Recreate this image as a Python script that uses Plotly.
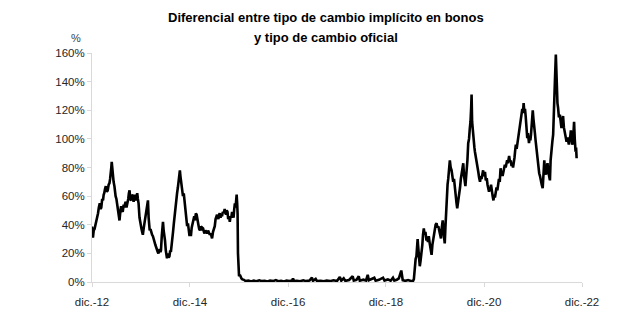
import plotly.graph_objects as go

# Dates and values (%)
dates_2013_2015 = [
    "2012-12-01", "2012-12-05", "2012-12-08", "2012-12-14", "2012-12-20", "2012-12-27", "2013-01-02",
    "2013-01-09", "2013-01-15", "2013-01-21", "2013-01-28", "2013-02-03", "2013-02-08", "2013-02-15",
    "2013-02-21", "2013-02-26", "2013-03-02", "2013-03-08", "2013-03-14", "2013-03-21", "2013-03-28",
    "2013-04-04", "2013-04-10", "2013-04-15", "2013-04-20", "2013-04-24", "2013-04-27", "2013-05-01",
    "2013-05-06", "2013-05-11", "2013-05-17", "2013-05-21", "2013-05-26", "2013-06-01", "2013-06-06",
    "2013-06-10", "2013-06-15", "2013-06-20", "2013-06-24", "2013-06-30", "2013-07-06", "2013-07-12",
    "2013-07-18", "2013-07-25", "2013-08-01", "2013-08-05", "2013-08-10", "2013-08-15", "2013-08-20",
    "2013-08-28", "2013-09-02", "2013-09-07", "2013-09-12", "2013-09-19", "2013-09-25", "2013-10-01",
    "2013-10-07", "2013-10-14", "2013-10-19", "2013-10-24", "2013-10-29", "2013-11-03", "2013-11-08",
    "2013-11-13", "2013-11-20", "2013-11-28", "2013-12-05", "2013-12-10", "2013-12-15", "2013-12-22",
    "2013-12-28", "2014-01-02", "2014-01-07", "2014-01-12", "2014-01-17", "2014-01-22", "2014-01-27",
    "2014-02-04", "2014-02-10", "2014-02-16", "2014-02-22", "2014-02-28", "2014-03-06", "2014-03-12",
    "2014-03-18", "2014-03-23", "2014-03-30", "2014-04-05", "2014-04-10", "2014-04-15", "2014-04-20",
    "2014-04-25", "2014-04-29", "2014-05-05", "2014-05-10", "2014-05-14", "2014-05-19", "2014-05-24",
    "2014-05-29", "2014-06-04", "2014-06-09", "2014-06-13", "2014-06-20", "2014-06-25", "2014-07-01",
    "2014-07-07", "2014-07-12", "2014-07-18", "2014-07-23", "2014-07-28", "2014-08-03", "2014-08-08",
    "2014-08-13", "2014-08-18", "2014-08-22", "2014-08-27", "2014-09-02", "2014-09-08", "2014-09-12",
    "2014-09-17", "2014-09-21", "2014-09-26", "2014-09-30", "2014-10-04", "2014-10-10", "2014-10-16",
    "2014-10-22", "2014-10-29", "2014-11-04", "2014-11-10", "2014-11-16", "2014-11-22", "2014-11-28",
    "2014-12-03", "2014-12-08", "2014-12-14", "2014-12-20", "2014-12-27", "2015-01-02", "2015-01-08",
    "2015-01-14", "2015-01-20", "2015-01-26", "2015-02-02", "2015-02-08", "2015-02-14", "2015-02-20",
    "2015-02-26", "2015-03-03", "2015-03-09", "2015-03-15", "2015-03-20", "2015-03-27", "2015-04-03",
    "2015-04-09", "2015-04-15", "2015-04-21", "2015-04-28", "2015-05-05", "2015-05-10", "2015-05-15",
    "2015-05-22", "2015-05-28", "2015-06-04", "2015-06-10", "2015-06-15", "2015-06-21", "2015-06-26",
    "2015-07-01", "2015-07-06", "2015-07-11", "2015-07-17", "2015-07-22", "2015-07-28", "2015-08-03",
    "2015-08-10", "2015-08-17", "2015-08-22", "2015-08-27", "2015-09-01", "2015-09-07", "2015-09-12",
    "2015-09-18", "2015-09-24", "2015-09-30", "2015-10-05", "2015-10-11", "2015-10-16", "2015-10-22",
    "2015-10-27", "2015-11-01", "2015-11-06", "2015-11-10", "2015-11-14", "2015-11-18", "2015-11-21",
    "2015-11-24", "2015-11-26", "2015-12-02", "2015-12-08", "2015-12-14", "2015-12-20", "2015-12-27",
]
values_2013_2015 = [
    38.7, 35, 31, 36, 37, 40, 42,
    46, 48, 52, 55, 51, 52, 58,
    57, 61, 62, 65, 67, 63, 64,
    68, 69, 72, 75, 80, 84, 78,
    74, 70, 67, 63, 60, 58, 55,
    50, 48, 45, 43, 49, 53, 50,
    49, 54, 52, 55, 56, 52, 54,
    58, 62, 64, 58, 57, 61, 60,
    56, 61, 58, 57, 60, 62, 58,
    55, 45, 39, 37, 35, 33, 38,
    42, 46, 50, 52, 56, 57, 45,
    36, 37, 34, 33, 32, 29, 28,
    26, 24, 22, 21, 20, 22, 23,
    21, 22, 32, 38, 42, 36, 33,
    29, 22, 19, 16.5, 20, 17, 18,
    22, 21, 25, 30, 35, 41, 46,
    52, 55, 59, 62, 66, 70, 74,
    78, 74, 70, 66, 64, 60, 62,
    57, 50, 44, 39, 41, 35, 32,
    36, 32, 38, 40, 44, 46, 43,
    48, 47, 42, 40, 37, 36, 39,
    36, 38, 37.5, 35, 34, 36, 35,
    34, 36, 34, 33, 34, 32, 30.5,
    35, 37, 39, 44, 46, 47, 45,
    44, 47, 48, 45, 47, 46, 49,
    48, 51, 49, 47, 50, 49, 44,
    46, 42, 46, 45, 49, 47, 45,
    51, 55, 52, 57, 61, 55, 48,
    20, 8, 4, 5, 3, 2.5, 1.8,
]

dates_2016_2019 = [
    "2016-01-08", "2016-01-20", "2016-02-10", "2016-03-01", "2016-03-20", "2016-04-10", "2016-05-01",
    "2016-05-20", "2016-06-10", "2016-07-01", "2016-07-20", "2016-08-10", "2016-09-01", "2016-09-20",
    "2016-10-10", "2016-11-01", "2016-11-20", "2016-12-10", "2017-01-01", "2017-01-07", "2017-01-14",
    "2017-02-05", "2017-03-01", "2017-03-25", "2017-04-15", "2017-05-10", "2017-05-28", "2017-06-05",
    "2017-06-25", "2017-07-05", "2017-08-01", "2017-08-25", "2017-09-15", "2017-10-10", "2017-11-05",
    "2017-12-01", "2017-12-22", "2018-01-02", "2018-01-20", "2018-02-01", "2018-03-01", "2018-03-28",
    "2018-04-05", "2018-04-25", "2018-05-12", "2018-05-20", "2018-06-15", "2018-07-05", "2018-07-18",
    "2018-07-26", "2018-08-20", "2018-09-05", "2018-09-15", "2018-10-10", "2018-11-09", "2018-11-20",
    "2018-12-15", "2019-01-05", "2019-01-22", "2019-02-01", "2019-02-20", "2019-03-07", "2019-03-25",
    "2019-04-05", "2019-04-25", "2019-05-15", "2019-06-05", "2019-06-21", "2019-06-27",
]
values_2016_2019 = [
    1.5, 0.6, 1.0, 0.4, 0.9, 0.5, 1.2,
    0.6, 0.9, 0.4, 1.0, 0.6, 1.3, 0.5,
    0.8, 0.4, 1.0, 0.6, 1.0, 2.5, 0.7,
    0.9, 0.5, 1.2, 0.6, 1.0, 3.0, 0.8,
    2.2, 0.6, 0.9, 0.5, 1.0, 0.6, 1.2,
    0.7, 3.5, 0.9, 2.6, 0.8, 1.4, 4.0,
    1.0, 1.5, 4.0, 0.9, 1.6, 1.0, 5.0,
    1.2, 2.0, 3.0, 0.9, 1.5, 3.0, 1.0,
    1.8, 0.9, 3.0, 1.0, 1.6, 2.5, 8.0,
    1.2, 0.8, 1.4, 0.7, 0.8, 2.0,
]

dates_2019_2022 = [
    "2019-07-04", "2019-07-10", "2019-07-16", "2019-07-22", "2019-07-25", "2019-07-28", "2019-08-03",
    "2019-08-10", "2019-08-16", "2019-08-23", "2019-08-29", "2019-09-03", "2019-09-09", "2019-09-15",
    "2019-09-21", "2019-09-29", "2019-10-05", "2019-10-10", "2019-10-16", "2019-10-23", "2019-10-30",
    "2019-11-06", "2019-11-12", "2019-11-18", "2019-11-23", "2019-11-29", "2019-12-06", "2019-12-13",
    "2019-12-19", "2019-12-26", "2020-01-02", "2020-01-08", "2020-01-15", "2020-01-21", "2020-01-28",
    "2020-02-03", "2020-02-08", "2020-02-12", "2020-02-17", "2020-02-21", "2020-02-27", "2020-03-04",
    "2020-03-09", "2020-03-14", "2020-03-18", "2020-03-21", "2020-03-27", "2020-04-03", "2020-04-09",
    "2020-04-15", "2020-04-21", "2020-04-28", "2020-05-04", "2020-05-10", "2020-05-15", "2020-05-21",
    "2020-05-26", "2020-05-30", "2020-06-05", "2020-06-11", "2020-06-17", "2020-06-23", "2020-06-29",
    "2020-07-05", "2020-07-10", "2020-07-15", "2020-07-20", "2020-07-24", "2020-07-30", "2020-08-05",
    "2020-08-11", "2020-08-17", "2020-08-22", "2020-08-27", "2020-08-30", "2020-09-03", "2020-09-09",
    "2020-09-15", "2020-09-20", "2020-09-24", "2020-09-30", "2020-10-07", "2020-10-13", "2020-10-19",
    "2020-10-25", "2020-11-01", "2020-11-07", "2020-11-12", "2020-11-18", "2020-11-24", "2020-11-30",
    "2020-12-08", "2020-12-14", "2020-12-21", "2020-12-27", "2021-01-02", "2021-01-07", "2021-01-13",
    "2021-01-17", "2021-01-22", "2021-01-28", "2021-02-03", "2021-02-09", "2021-02-15", "2021-02-20",
    "2021-02-26", "2021-03-04", "2021-03-10", "2021-03-16", "2021-03-22", "2021-03-28", "2021-04-03",
    "2021-04-09", "2021-04-14", "2021-04-18", "2021-04-24", "2021-04-29", "2021-05-05", "2021-05-11",
    "2021-05-16", "2021-05-22", "2021-05-28", "2021-06-01", "2021-06-06", "2021-06-12", "2021-06-18",
    "2021-06-24", "2021-06-30", "2021-07-05", "2021-07-11", "2021-07-16", "2021-07-21", "2021-07-26",
    "2021-08-01", "2021-08-08", "2021-08-14", "2021-08-20", "2021-08-26", "2021-09-01", "2021-09-07",
    "2021-09-12", "2021-09-17", "2021-09-22", "2021-09-27", "2021-10-02", "2021-10-07", "2021-10-12",
    "2021-10-19", "2021-10-24", "2021-10-29", "2021-11-01", "2021-11-06", "2021-11-11", "2021-11-16",
    "2021-11-21", "2021-11-25", "2021-11-29", "2021-12-04", "2021-12-10", "2021-12-15", "2021-12-20",
    "2021-12-23", "2021-12-28", "2022-01-05", "2022-01-10", "2022-01-16", "2022-01-22", "2022-01-28",
    "2022-02-04", "2022-02-11", "2022-02-15", "2022-02-19", "2022-02-23", "2022-02-27", "2022-03-03",
    "2022-03-07", "2022-03-12", "2022-03-19", "2022-03-25", "2022-04-01", "2022-04-06", "2022-04-11",
    "2022-04-18", "2022-04-24", "2022-04-30", "2022-05-03", "2022-05-07", "2022-05-13", "2022-05-20",
    "2022-05-24", "2022-05-27", "2022-06-01", "2022-06-06", "2022-06-12", "2022-06-19", "2022-06-25",
    "2022-07-01", "2022-07-07", "2022-07-13", "2022-07-19", "2022-07-26", "2022-08-01", "2022-08-08",
    "2022-08-15", "2022-08-20", "2022-08-25", "2022-08-31", "2022-09-05", "2022-09-09", "2022-09-14",
    "2022-09-19", "2022-09-25", "2022-10-03", "2022-10-08", "2022-10-14", "2022-10-18", "2022-10-22",
]
values_2019_2022 = [
    13, 16, 18, 24, 30, 26, 16,
    11, 15, 20, 26, 33, 37.5, 33,
    35, 29, 31, 28, 32, 27, 24,
    19, 26, 30, 34, 38, 40, 41,
    38, 39, 36, 34, 30.5, 38, 43,
    35, 30, 27, 38, 48, 58, 68,
    72, 76, 82, 85, 80, 78, 74,
    70, 72, 64, 60, 55, 51.5, 55,
    58, 60, 66, 72, 76, 79, 83,
    74, 70, 67, 73, 77, 85, 97,
    100, 107.5, 112, 122, 131, 112, 103,
    98, 94, 91, 88, 85, 80, 77,
    73, 70, 74, 72, 75, 78, 74,
    77, 71, 72.5, 68, 65, 63, 66,
    64, 68, 62, 60, 57, 61, 59,
    63, 66, 64, 67, 72, 70, 79.5,
    75, 77, 74, 78, 80, 82, 80,
    84, 85, 83, 86, 88, 84, 85,
    81, 83, 80, 83, 87, 92, 96,
    93, 98, 103, 107.5, 112, 115, 117,
    121, 118, 125, 119, 121, 116, 107,
    100.5, 104, 99, 97, 101, 99, 103,
    110, 116, 120, 114, 110, 104, 99,
    96, 90, 82, 78, 76, 74, 70,
    68, 65.5, 72, 78, 85, 79, 77,
    75, 80, 83, 77, 72, 71, 85,
    96, 98, 103, 118, 135.5, 140, 159,
    145, 133, 125, 121.5, 115, 117, 112,
    107.5, 112, 116, 108, 105, 101, 98,
    101, 97, 96, 100, 102, 106, 101,
    96, 98, 112, 100, 91, 94, 86.5,
]

tick_dates = ["2012-12-01", "2014-12-01", "2016-12-01", "2018-12-01", "2020-12-01", "2022-12-01"]
tick_labels = ["dic.-12", "dic.-14", "dic.-16", "dic.-18", "dic.-20", "dic.-22"]
y_ticks = [0, 20, 40, 60, 80, 100, 120, 140, 160]

dates = dates_2013_2015 + dates_2016_2019 + dates_2019_2022
values = values_2013_2015 + values_2016_2019 + values_2019_2022

fig = go.Figure()
fig.add_trace(go.Scatter(
    x=dates, y=values, mode="lines",
    line=dict(color="#000000", width=2.6),
    showlegend=False, hoverinfo="skip",
))

axis_font = dict(family="Liberation Sans, Arial, sans-serif", size=11.5, color="#262626")
title_font = dict(family="Liberation Sans, Arial, sans-serif", size=13, color="#000000")

fig.update_layout(
    width=617, height=329,
    margin=dict(l=92, r=35, t=53, b=47),
    paper_bgcolor="white", plot_bgcolor="white",
    xaxis=dict(
        type="date", range=["2012-12-01", "2022-12-01"],
        tickmode="array", tickvals=tick_dates, ticktext=tick_labels,
        showgrid=False, zeroline=False,
        showline=True, linecolor="#d9d9d9", linewidth=1,
        ticks="outside", ticklen=4, tickcolor="#d9d9d9",
        ticklabelstandoff=5,
        tickfont=axis_font,
    ),
    yaxis=dict(
        range=[0, 160], tickmode="array", tickvals=y_ticks,
        ticktext=[f"{v}%" for v in y_ticks],
        showgrid=False, zeroline=False,
        showline=True, linecolor="#d9d9d9", linewidth=1,
        ticks="outside", ticklen=4, tickcolor="#d9d9d9",
        tickfont=axis_font,
    ),
    annotations=[
        dict(text="<b>Diferencial entre tipo de cambio implícito en bonos</b>",
             xref="paper", yref="paper", x=0.4776, y=(282 - 18) / 229,
             xanchor="center", yanchor="middle", showarrow=False, font=title_font),
        dict(text="<b>y tipo de cambio oficial</b>",
             xref="paper", yref="paper", x=0.4776, y=(282 - 37) / 229,
             xanchor="center", yanchor="middle", showarrow=False, font=title_font),
        dict(text="%", xref="paper", yref="paper", x=-0.0327, y=(282 - 38) / 229,
             xanchor="center", yanchor="middle", showarrow=False,
             font=dict(family="Liberation Sans, Arial, sans-serif", size=11, color="#404040")),
    ],
)

fig.write_html("out.html")
